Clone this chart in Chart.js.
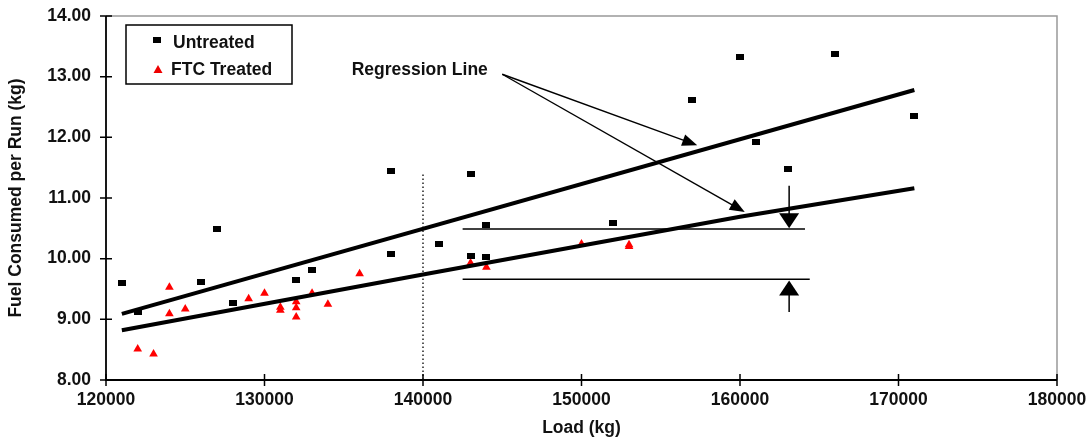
<!DOCTYPE html>
<html lang="en">
<head>
  <meta charset="UTF-8">
  <title>Fuel Consumed per Run vs Load</title>
  <script src="https://cdn.jsdelivr.net/npm/chart.js"></script>
  <style>
    html, body { margin: 0; padding: 0; background: #fff; }
    #wrap { width: 1092px; height: 439px; }
  </style>
</head>
<body>
<div id="wrap"><canvas id="chart" width="1092" height="439"></canvas></div>

<script>
    // --- data ---
    const untreatedLoad = [121000, 122000, 126000, 127000, 128000, 132000, 133000, 138000, 138000, 141000,
                           143000, 143000, 144000, 144000, 152000, 157000, 160000, 161000, 163000, 166000, 171000];
    const untreatedFuel = [9.60, 9.12, 9.62, 10.49, 9.27, 9.65, 9.81, 10.08, 11.45, 10.24,
                           11.40, 10.04, 10.56, 10.03, 10.59, 12.62, 13.32, 11.92, 11.48, 13.37, 12.35];

    const treatedLoad = [122000, 123000, 124000, 124000, 125000, 129000, 130000, 131000, 131000, 132000,
                         132000, 132000, 133000, 134000, 136000, 143000, 144000, 150000, 153000, 153000];
    const treatedFuel = [8.51, 8.43, 9.53, 9.09, 9.17, 9.34, 9.43, 9.20, 9.15, 9.29,
                         9.19, 9.04, 9.43, 9.25, 9.75, 9.93, 9.86, 10.24, 10.23, 10.20];

    // regression lines
    const untreatedFitLoad = [121000, 171000];
    const untreatedFitFuel = [9.09, 12.78];
    const treatedFitLoad = [121000, 140000, 160000, 171000];
    const treatedFitFuel = [8.82, 9.74, 10.69, 11.16];

    // reference lines
    const dottedLoad = [140000, 140000];
    const dottedFuel = [8.00, 11.40];
    const levelHighLoad = [142500, 164100];
    const levelHighFuel = [10.49, 10.49];
    const levelLowLoad = [142500, 164400];
    const levelLowFuel = [9.66, 9.66];

    // annotations: label and arrows (data units)
    const noteText = 'Regression Line';
    const noteAt = [135500, 13.10];
    const noteArrowFrom = [145000, 13.04];
    const noteArrowTo = [[157300, 11.87], [160300, 10.77]];
    const gapArrows = [
        [[163100, 11.20], [163100, 10.50]],
        [[163100, 9.12], [163100, 9.64]]
    ];

    const xTicks = [120000, 130000, 140000, 150000, 160000, 170000, 180000];
    const yTicks = [8, 9, 10, 11, 12, 13, 14];

    const FONT = 'Liberation Sans, Arial, sans-serif';
    const textColor = '#111';

    function pts(xs, ys) {
        return xs.map((x, i) => ({ x: x, y: ys[i] }));
    }

    // small black rectangle marker
    const sq = document.createElement('canvas');
    sq.width = 8; sq.height = 6;
    const sqc = sq.getContext('2d');
    sqc.fillStyle = '#000';
    sqc.fillRect(0, 0, 8, 6);

    function lineSet(xs, ys, width, dash) {
        return {
            type: 'line',
            data: pts(xs, ys),
            borderColor: '#000',
            borderWidth: width,
            borderDash: dash || [],
            pointRadius: 0,
            showLine: true,
            fill: false,
            tension: 0
        };
    }

    function drawArrow(ctx, x0, y0, x1, y1, headLen, headW, lw) {
        const ang = Math.atan2(y1 - y0, x1 - x0);
        ctx.save();
        ctx.strokeStyle = '#000';
        ctx.fillStyle = '#000';
        ctx.lineWidth = lw;
        ctx.beginPath();
        ctx.moveTo(x0, y0);
        ctx.lineTo(x1 - Math.cos(ang) * headLen * 0.8, y1 - Math.sin(ang) * headLen * 0.8);
        ctx.stroke();
        ctx.translate(x1, y1);
        ctx.rotate(ang);
        ctx.beginPath();
        ctx.moveTo(0, 0);
        ctx.lineTo(-headLen, -headW / 2);
        ctx.lineTo(-headLen, headW / 2);
        ctx.closePath();
        ctx.fill();
        ctx.restore();
    }

    const decorPlugin = {
        id: 'decor',
        beforeDatasetsDraw(chart) {
            const ctx = chart.ctx;
            const a = chart.chartArea;
            const xs = chart.scales.x, ys = chart.scales.y;
            ctx.save();
            // grey frame top/right
            ctx.strokeStyle = '#999';
            ctx.lineWidth = 1.5;
            ctx.beginPath();
            ctx.moveTo(a.left, a.top);
            ctx.lineTo(a.right, a.top);
            ctx.lineTo(a.right, a.bottom);
            ctx.stroke();
            // black axes
            ctx.strokeStyle = '#000';
            ctx.lineWidth = 1.8;
            ctx.beginPath();
            ctx.moveTo(a.left, a.top);
            ctx.lineTo(a.left, a.bottom);
            ctx.lineTo(a.right, a.bottom);
            ctx.stroke();
            // crossing tick marks
            ctx.lineWidth = 1.5;
            ctx.beginPath();
            yTicks.forEach(v => {
                const y = ys.getPixelForValue(v);
                ctx.moveTo(a.left - 6, y);
                ctx.lineTo(a.left + 6, y);
            });
            xTicks.forEach(v => {
                const x = xs.getPixelForValue(v);
                ctx.moveTo(x, a.bottom - 6);
                ctx.lineTo(x, a.bottom + 6);
            });
            ctx.stroke();
            ctx.restore();
        },
        afterDatasetsDraw(chart) {
            const ctx = chart.ctx;
            const a = chart.chartArea;
            const xs = chart.scales.x, ys = chart.scales.y;
            const px = p => [xs.getPixelForValue(p[0]), ys.getPixelForValue(p[1])];

            // annotation text and arrows
            ctx.save();
            ctx.font = 'bold 17.5px ' + FONT;
            ctx.fillStyle = textColor;
            ctx.textBaseline = 'middle';
            ctx.textAlign = 'left';
            const n = px(noteAt);
            ctx.fillText(noteText, n[0], n[1]);
            const f = px(noteArrowFrom);
            noteArrowTo.forEach(t => {
                const p = px(t);
                drawArrow(ctx, f[0], f[1], p[0], p[1], 15, 12, 1.4);
            });
            gapArrows.forEach(g => {
                const p0 = px(g[0]), p1 = px(g[1]);
                drawArrow(ctx, p0[0], p0[1], p1[0], p1[1], 15, 20, 1.5);
            });

            // legend box
            const lx = a.left + 20, ly = a.top + 9, lw = 166, lh = 59;
            ctx.strokeStyle = '#000';
            ctx.lineWidth = 1.5;
            ctx.strokeRect(lx, ly, lw, lh);
            const ds = chart.data.datasets;
            const u = ds.find(d => d.label === 'Untreated');
            const t = ds.find(d => d.label === 'FTC Treated');
            ctx.drawImage(sq, lx + 27, ly + 12);
            ctx.fillStyle = '#e00';
            ctx.beginPath();
            ctx.moveTo(lx + 32, ly + 40);
            ctx.lineTo(lx + 36.5, ly + 48);
            ctx.lineTo(lx + 27.5, ly + 48);
            ctx.closePath();
            ctx.fill();
            ctx.fillStyle = textColor;
            ctx.fillText(u.label, lx + 47, ly + 18);
            ctx.fillText(t.label, lx + 45, ly + 45);
            ctx.restore();
        }
    };

    const ctx = document.getElementById('chart').getContext('2d');
    const chart = new Chart(ctx, {
        type: 'scatter',
        data: {
            datasets: [
                lineSet(untreatedFitLoad, untreatedFitFuel, 4),
                lineSet(treatedFitLoad, treatedFitFuel, 4),
                lineSet(dottedLoad, dottedFuel, 1.3, [1.5, 2.5]),
                lineSet(levelHighLoad, levelHighFuel, 1.5),
                lineSet(levelLowLoad, levelLowFuel, 1.5),
                {
                    label: 'Untreated',
                    data: pts(untreatedLoad, untreatedFuel),
                    pointStyle: sq,
                    pointRadius: 4,
                    backgroundColor: '#000',
                    borderColor: '#000'
                },
                {
                    label: 'FTC Treated',
                    data: pts(treatedLoad, treatedFuel),
                    pointStyle: 'triangle',
                    pointRadius: 5,
                    borderWidth: 0,
                    backgroundColor: '#f00',
                    borderColor: '#f00'
                }
            ]
        },
        options: {
            responsive: false,
            animation: false,
            events: [],
            layout: { padding: { left: 0, top: 16, right: 35, bottom: 0 } },
            plugins: {
                legend: { display: false },
                tooltip: { enabled: false }
            },
            scales: {
                x: {
                    type: 'linear',
                    min: 120000,
                    max: 180000,
                    afterBuildTicks: s => { s.ticks = xTicks.map(v => ({ value: v })); },
                    afterFit: s => { s.height = 59; s.paddingLeft = 0; s.paddingRight = 0; },
                    grid: { display: false, drawTicks: false },
                    border: { display: false },
                    ticks: {
                        padding: 10,
                        color: textColor,
                        font: { family: FONT, size: 17.5, weight: 'bold' },
                        callback: v => String(v)
                    },
                    title: {
                        display: true,
                        text: 'Load (kg)',
                        color: textColor,
                        padding: { top: 0, bottom: 0 },
                        font: { family: FONT, size: 17.5, weight: 'bold' }
                    }
                },
                y: {
                    type: 'linear',
                    min: 8,
                    max: 14,
                    afterBuildTicks: s => { s.ticks = yTicks.map(v => ({ value: v })); },
                    afterFit: s => { s.width = 106; s.paddingTop = 0; s.paddingBottom = 0; },
                    grid: { display: false, drawTicks: false },
                    border: { display: false },
                    ticks: {
                        padding: 15,
                        color: textColor,
                        font: { family: FONT, size: 17.5, weight: 'bold' },
                        callback: v => Number(v).toFixed(2)
                    },
                    title: {
                        display: true,
                        text: 'Fuel Consumed per Run (kg)',
                        color: textColor,
                        padding: { top: 6, bottom: 0 },
                        font: { family: FONT, size: 17.5, weight: 'bold' }
                    }
                }
            }
        },
        plugins: [decorPlugin]
    });
</script>
</body>
</html>
